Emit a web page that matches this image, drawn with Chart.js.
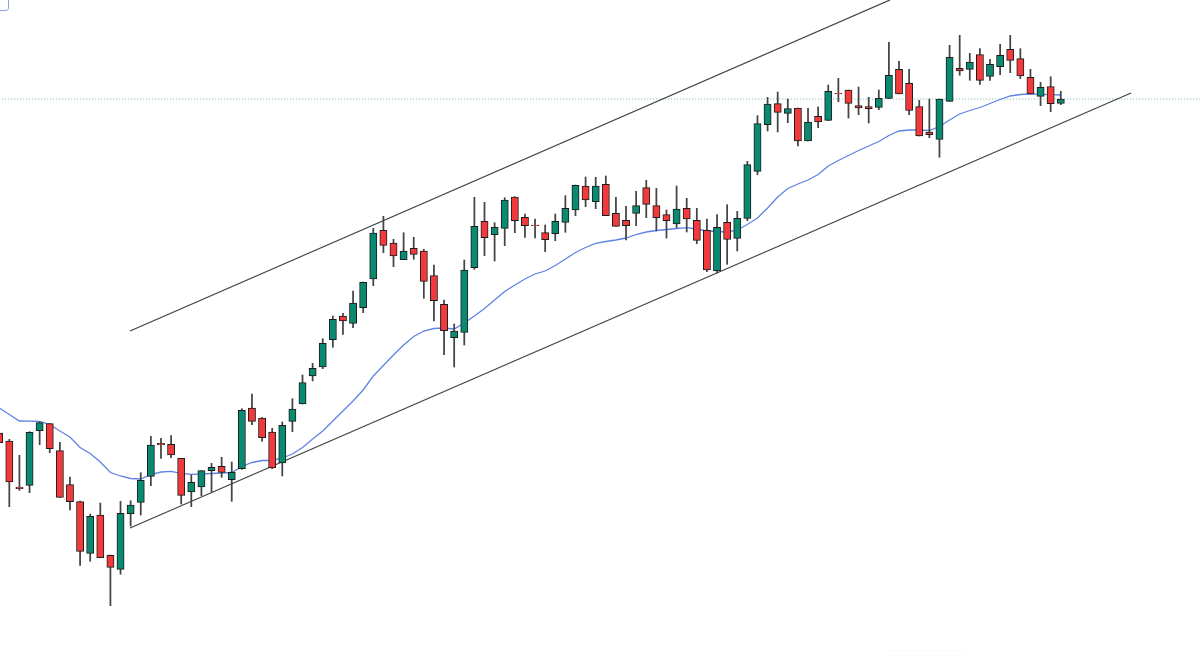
<!DOCTYPE html>
<html>
<head>
<meta charset="utf-8">
<title>Candlestick channel</title>
<script src="https://cdn.jsdelivr.net/npm/chart.js@4"></script>
<style>
  html, body { margin: 0; padding: 0; background: #fff; overflow: hidden; }
  #wrap { position: relative; width: 1200px; height: 651px; overflow: hidden; }
  #corner { position: absolute; left: -12px; top: -12px; width: 19px; height: 21px; border: 1px solid #8c9fe6; border-radius: 3px; }
  #faint { position: absolute; left: 888px; top: 650px; width: 78px; height: 1px; background: #fafafa; }
</style>
</head>
<body>
<div id="wrap">
  <canvas id="chart" width="1200" height="651"></canvas>
  <div id="corner"></div>
  <div id="faint"></div>
</div>
<script>
// Candle values (price units, one entry per candle)
const opens = [218,210,164,165.7,220.3,227.3,200.3,166.3,149.3,97.7,136,95.7,81.7,137.3,148.7,174.7,207.7,206.7,192.7,159,164,180.3,184.7,171.3,182.3,243,233,219,188,229.7,
  247,275,284,311.3,335,327.7,343.3,372,420.7,408,391.3,402.7,400,375.3,346.7,313.3,318.7,383.3,429.7,416.3,422.7,454,433.7,426,418.3,417.3,428.7,441,465,449.3,
  466.7,437.7,430.7,437.7,463.3,445.3,436.3,427,442.7,430.7,420.7,380,428.7,412.7,432.7,479.7,526.3,547.3,537.7,543,510,534.7,530.7,557.7,561,545.3,544.3,543.7,552.7,581.7,
  567.7,544.3,519,511.7,549.7,582.7,581.7,596.3,574.7,584.3,601.7,592.3,573.7,554.7,564.3,547.7];
const highs = [218,211.7,195.7,219.3,229,227.7,208.7,174,150,137,148,96,149.7,150.3,178.3,214.7,212.7,215.3,192.7,176,180.3,187.7,193.7,189,242.3,257,233.3,222.7,229,252.3,
  276,287.7,312.3,335,337.7,360,369,422.7,434.7,411.7,418.3,413.7,401.7,386,351,327,391,453.7,448.7,428.3,453.3,454.3,437,432,426,437,455.3,466,474,473.7,
  475,453.7,444.7,459.7,470.7,462.7,441,465,452.7,442.7,432,436.3,446.3,439.7,489.7,535.3,553.7,559,552,543,542.7,544,566,572.7,561,564,553.7,561,608.7,589.7,
  581.7,550.7,552,552,605.7,615.7,597.7,602.3,591.7,606.7,615.7,602.3,581.7,568.7,574.3,559.7];
const lows = [208.3,144.3,160.7,158.3,206.3,198.3,153.5,141,85.7,89.7,93.3,45.3,76.7,125,136,165.3,192.7,193.3,147,144.3,155.3,159,173.7,149.7,181.7,226.3,209.7,182.3,175,219.3,
  247,270,282.3,303.7,316.7,323.3,338.3,365.3,398.3,384.3,391.3,391.7,352.7,330,296.3,284,306,381.7,395.3,390,405.3,418.3,413.7,413,399.3,410.3,418.7,435.3,444.3,442.3,
  435.3,424.7,411,425.3,433.3,420,413,423.3,419,407.3,379.3,378,386.7,400,430.3,476.3,520,519,528.3,505,510,523.3,530.3,549.3,533,536.3,528,541.3,552.3,557,
  536.3,515,513.3,493.7,549.7,575.7,570.7,566.7,570.7,576.3,578.3,572.3,557,545.3,539.3,546.3];
const closes = [208.3,169,162.3,218.7,228.3,202.3,153.7,149.3,99.7,134.7,93.3,83.7,137.7,146,170.7,206,206,196,155.7,168.7,180.3,183.7,178.7,178.7,240.7,229.7,213.3,183,225.7,242,
  268.3,282.7,307.7,331.7,330,348,368.7,418,405.7,395,400,396.7,369.7,350.3,320.3,320,381,424.7,413.3,423.7,451,430.3,425.3,425.3,411.3,429.7,442.7,465.7,451,465,
  435.3,424.7,425.3,445.3,446.7,433.3,430.3,442,432,410.7,381,423.7,411.7,432.7,486.3,527.3,547,538.7,542.3,510,529,529,559.7,557,547.7,543,542.3,552.7,575.7,557,
  540.7,515,516.3,552,593.7,580,589,570.7,586.7,595.7,590.7,575,557,563.7,547.3,552];

// Blue moving average, one value per candle
const maValues = [243,236.5,230,229.8,229.5,226.5,220,214,203.5,197.5,189,178.5,175,172.5,172,176.5,179,179.7,177.7,176.7,177,177.5,178,178.5,184.5,188.5,190.5,190.5,193,197,
  203.5,212,220,230,240,250,261,275,285.5,296,306,314.5,320,322.5,323,322,328,335,342.5,351,359.5,366,372,377,380,385.5,392,398.5,403.5,407.7,
  409.5,411,413,416.5,419,420.5,421.5,422.5,423.3,422,420,419.5,419,421,426.5,433,443,454,462.5,467,471,476.5,485,490.5,495.5,500.5,505,509.5,515.5,520,
  521,521,520.5,524.5,531,537,540.5,543.5,547.5,551.5,555,556.5,557.2,556.7,556.3,556];

// Channel lines and the dotted price level
const upperX = [12.94, 88.11];
const upperY = [320, 651];
const lowerX = [12.94, 111.95];
const lowerY = [123, 558];
const levelX = [0, 119];
const levelY = [552, 552];

const GREEN = '#0a8a70';
const RED = '#f23a3c';

const wickData = highs.map((h, i) => ({ x: i, y: [lows[i], h] }));
const bodyData = opens.map((o, i) => ({ x: i, y: [o, closes[i]] }));
const bodyColors = opens.map((o, i) => closes[i] >= o ? GREEN : RED);
const maData = maValues.map((v, i) => ({ x: i, y: v }));
const toPoints = (xs, ys) => xs.map((x, i) => ({ x: x, y: ys[i] }));

new Chart(document.getElementById('chart'), {
    type: 'bar',
    data: {
        datasets: [
            { type: 'line', order: 5, data: toPoints(levelX, levelY), borderColor: '#6fb0a3', borderWidth: 1, borderDash: [1, 2], pointRadius: 0 },
            { type: 'line', order: 4, data: maData, borderColor: '#5f83e4', borderWidth: 1.3, pointRadius: 0 },
            { type: 'line', order: 3, data: toPoints(upperX, upperY), borderColor: '#444444', borderWidth: 1.35, pointRadius: 0 },
            { type: 'line', order: 3, data: toPoints(lowerX, lowerY), borderColor: '#444444', borderWidth: 1.35, pointRadius: 0 },
            { order: 2, data: wickData, grouped: false, barThickness: 1.1, backgroundColor: '#444444' },
            { order: 1, data: bodyData, grouped: false, barThickness: 7.2, backgroundColor: bodyColors, borderColor: '#1c1c1c', borderWidth: 1, borderSkipped: false }
        ]
    },
    options: {
        responsive: false,
        animation: false,
        layout: { padding: 0 },
        plugins: { legend: { display: false }, tooltip: { enabled: false } },
        scales: {
            x: { type: 'linear', display: false, offset: false, min: 0.079, max: 118.77 },
            y: { type: 'linear', display: false, min: 0, max: 651 }
        }
    }
});
</script>
</body>
</html>
